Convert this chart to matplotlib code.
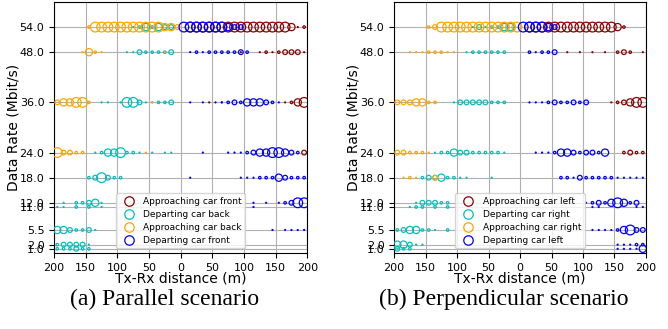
import matplotlib
matplotlib.use("Agg")
import matplotlib.pyplot as plt
from matplotlib.lines import Line2D
from matplotlib.ticker import FuncFormatter

# data rates (rows) and 10 m distance bins (bin centres)
rates = [1.0, 2.0, 5.5, 11.0, 12.0, 18.0, 24.0, 36.0, 48.0, 54.0]
distances = [-195, -185, -175, -165, -155, -145, -135, -125, -115, -105,
             -95, -85, -75, -65, -55, -45, -35, -25, -15, -5,
             5, 15, 25, 35, 45, 55, 65, 75, 85, 95,
             105, 115, 125, 135, 145, 155, 165, 175, 185, 195]

# share of samples per bin, as a level 0..5 (one string per rate, one digit per bin)
par_app_front = [
    "0000000000 0000000000 0000000000 0000000000",
    "0000000000 0000000000 0000000000 0000000000",
    "0000000000 0000000000 0000000000 0000000000",
    "0000000000 0000000000 0000000000 0000000000",
    "0000000000 0000000000 0000000000 0000000000",
    "0000000000 0000000000 0000000000 0000000000",
    "0000000000 0000000000 0000000000 0000000003",
    "0000000000 0000000000 0000101000 0000001245",
    "0000000000 0000000000 0000000001 0012123331",
    "0000000000 0000000000 0555555555 5555555412",
]
par_dep_back = [
    "2223220000 0000000000 0000000000 0000000000",
    "2333310000 0000000000 0000000000 0000000000",
    "4432231000 0000000000 0000000000 0000000000",
    "1102020100 0000000000 0000000000 0000000000",
    "0102234100 0000000000 0000000000 0000000000",
    "0000023532 2000000000 0000000000 0000000000",
    "0000001244 5221010110 0000000000 0000000000",
    "0000000110 1553112230 0000000000 0000000000",
    "0000000000 0113222230 0000000000 0000000000",
    "0000000000 0012424330 0000000000 0000000000",
]
par_app_back = [
    "0000000000 0000000000 0000000000 0000000000",
    "0000000000 0000000000 0000000000 0000000000",
    "0000000000 0000000000 0000000000 0000000000",
    "0000000000 0000000000 0000000000 0000000000",
    "0000000000 0000000000 0000000000 0000000000",
    "0000000000 0000000000 0000000000 0000000000",
    "5332200000 0000100000 0000000000 0000000000",
    "3445520000 0000010000 0000000000 0000000000",
    "0000142100 0000000100 0000000000 0000000000",
    "0000025555 5555555443 0000000000 0000000000",
]
par_dep_front = [
    "0000000000 0000000000 0000000000 0000000000",
    "0000000000 0000000000 0000000000 0000000000",
    "0000000000 0000000000 0000000000 0000101111",
    "0000000000 0000000000 0000000000 0100000000",
    "0000000000 0000000000 0000000000 0101012355",
    "0000000000 0000000000 0100000001 1122243222",
    "0000000000 0000000000 0001000111 2344554320",
    "0000000000 0000000000 0101011232 4443210000",
    "0000000000 0000000000 0121222223 2000000000",
    "0000000000 0000000000 5555555433 0000000000",
]

per_app_left = [
    "0000000000 0000000000 0000000000 0000000000",
    "0000000000 0000000000 0000000000 0000000000",
    "0000000000 0000000000 0000000000 0000000000",
    "0000000000 0000000000 0000000000 0000000000",
    "0000000000 0000000000 0000000000 0000000000",
    "0000000000 0000000000 0000000000 0000000000",
    "0000000000 0000000000 0000000000 0000002322",
    "0000000000 0000000000 0000000000 0000123455",
    "0000000000 0000000000 0000000101 0101023201",
    "0000000000 0000000000 0555555555 5555542000",
]
per_dep_right = [
    "3220000000 0000000000 0000000000 0000000000",
    "4431100000 0000000000 0000000000 0000000000",
    "2344221020 0000000000 0000000000 0000000000",
    "0012202020 0000000000 0000000000 0000000000",
    "0001333220 0000000000 0000000000 0000000000",
    "0000233422 1100010000 0000000000 0000000000",
    "0000001224 3322222100 0000000000 0000000000",
    "0000000001 3333322200 0000000000 0000000000",
    "0000000000 0122222200 0000000000 0000000000",
    "0000000000 0013122440 0000000000 0000000000",
]
per_app_right = [
    "0000000000 0000000000 0000000000 0000000000",
    "0000000000 0000000000 0000000000 0000000000",
    "0000000000 0000000000 0000000000 0000000000",
    "0000000000 0000000000 0000000000 0000000000",
    "0000000000 0000000000 0000000000 0000000000",
    "0121003000 0000000000 0000000000 0000000000",
    "3322210000 0000000000 0000000000 0000000000",
    "3334422000 0000000000 0000000000 0000000000",
    "0011122211 0000000000 0000000000 0000000000",
    "0000023555 5555555555 0000000000 0000000000",
]
per_dep_left = [
    "0000000000 0000000000 0000000000 0000011114",
    "0000000000 0000000000 0000000000 0000011122",
    "0000000000 0000000000 0000000000 0111124533",
    "0000000000 0000000000 0000000000 0110000011",
    "0000000000 0000000000 0000000000 1232454230",
    "0000000000 0000000000 0000002213 2222211111",
    "0000000000 0000000000 0011124432 3324000000",
    "0000000000 0000000000 0111232232 3000000000",
    "0000000000 0000000000 0212230000 0000000000",
    "0000000000 0000000000 5555430000 0000000000",
]

colors = ["darkred", "c", "orange", "b"]
labels_a = ["Approaching car front", "Departing car back",
            "Approaching car back", "Departing car front"]
labels_b = ["Approaching car left", "Departing car right",
            "Approaching car right", "Departing car left"]

# marker diameter (pt) per level
msize = [0, 0.7, 1.8, 3.4, 5.2, 7.0]


def draw(ax, series, labels):
    for rows, col in zip(series, colors):
        xs, ys, ss = [], [], []
        for rate, row in zip(rates, rows):
            row = row.replace(" ", "")
            for d, lev in zip(distances, row):
                lev = int(lev)
                if lev > 0:
                    xs.append(d)
                    ys.append(rate)
                    ss.append(msize[lev] ** 2)
        ax.scatter(xs, ys, s=ss, facecolors="none", edgecolors=col,
                   linewidths=0.9, zorder=3)
    ax.set_xlim(-200, 200)
    ax.set_ylim(0, 60)
    ax.set_xticks([-200, -150, -100, -50, 0, 50, 100, 150, 200])
    ax.xaxis.set_major_formatter(FuncFormatter(lambda v, p: "%d" % abs(v)))
    ax.set_yticks(rates)
    ax.set_yticklabels(["%.1f" % r for r in rates])
    ax.tick_params(labelsize=8)
    ax.grid(True, color="#b0b0b0", linewidth=0.8)
    ax.set_axisbelow(True)
    ax.set_xlabel("Tx-Rx distance (m)", fontsize=10, labelpad=-1)
    ax.set_ylabel("Data Rate (Mbit/s)", fontsize=10, labelpad=-1)
    handles = [Line2D([], [], linestyle="none", marker="o", markersize=6.8,
                      markerfacecolor="none", markeredgecolor=c, markeredgewidth=0.9)
               for c in colors]
    ax.legend(handles, labels, loc="lower center", fontsize=6.5,
              handletextpad=0.6, borderpad=0.4, labelspacing=0.45)


fig = plt.figure(figsize=(6.68, 3.29), dpi=100)
ax1 = fig.add_axes([0.081, 0.231, 0.379, 0.763])
ax2 = fig.add_axes([0.590, 0.231, 0.377, 0.763])
draw(ax1, [par_app_front, par_dep_back, par_app_back, par_dep_front], labels_a)
draw(ax2, [per_app_left, per_dep_right, per_app_right, per_dep_left], labels_b)

fig.text(165 / 668, 1 - 299 / 329, "(a) Parallel scenario", ha="center", va="center",
         fontsize=17, family="Liberation Serif")
fig.text(504 / 668, 1 - 299 / 329, "(b) Perpendicular scenario", ha="center", va="center",
         fontsize=17, family="Liberation Serif")

fig.savefig("out.png", dpi=100)
